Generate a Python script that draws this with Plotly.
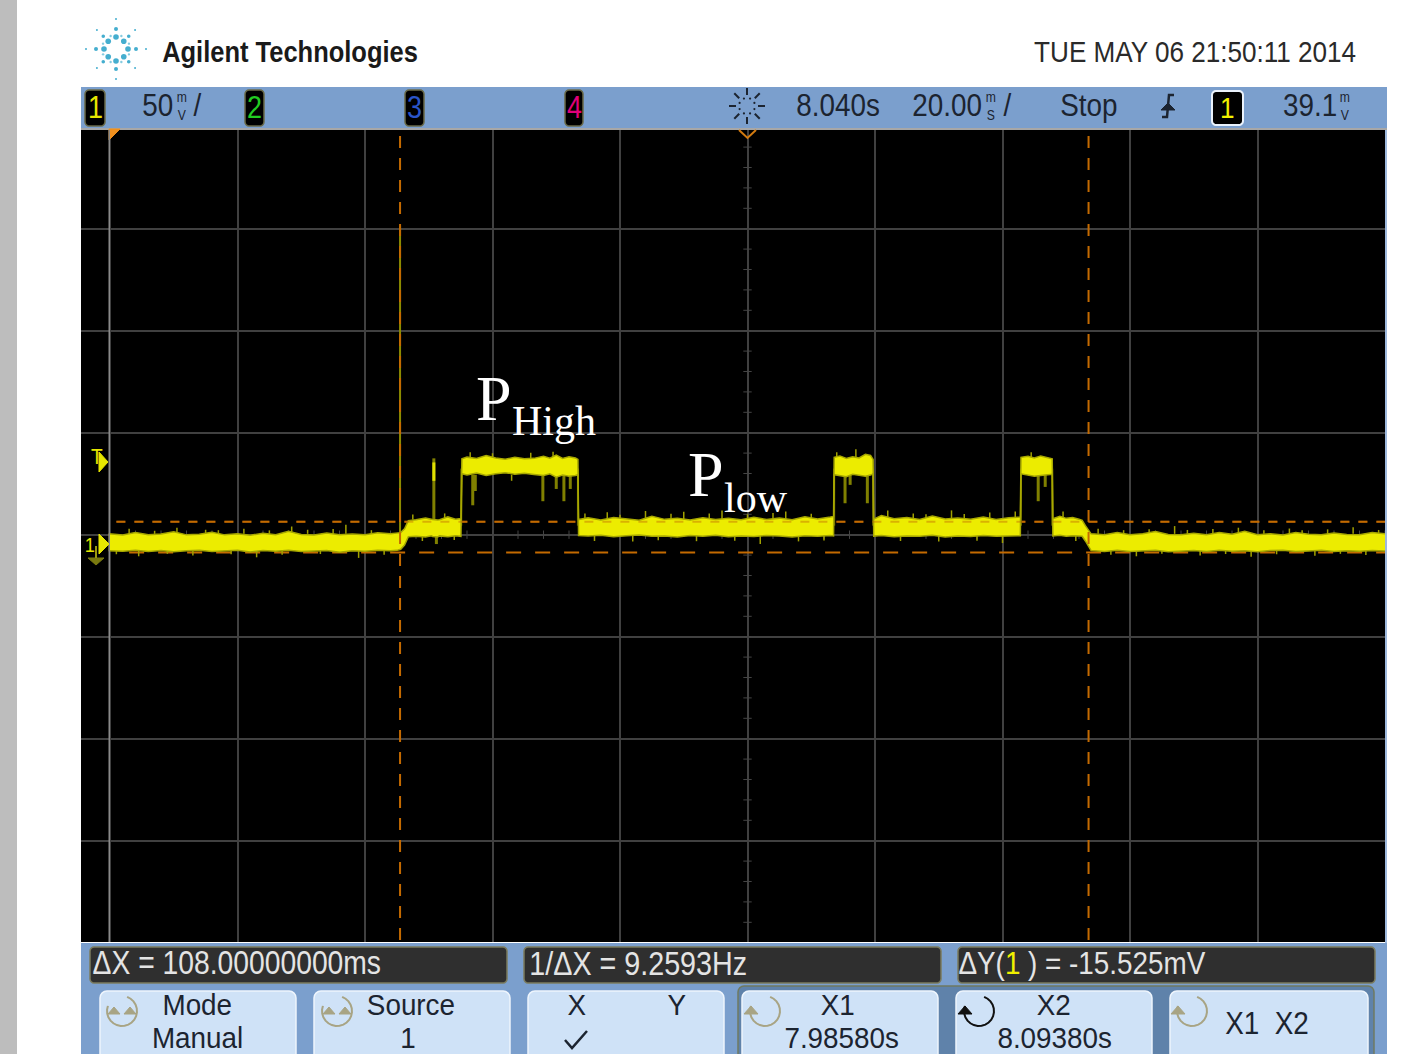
import math
import plotly.graph_objects as go

W, H = 1426, 1054
SANS = "Liberation Sans, Arial"
SERIF = "Liberation Serif, Times New Roman"

# ---- waveform (time in ms from screen centre, level in mV from channel ground)
trace_t = [-100.2,-98,-96,-94,-92,-90,-88,-86,-84,-82,-80,-78,-76,-74,-72,-70,-68,-66,-64,-62,-60,-58,-56,-55,-54.4,-53.8,
           -53.2,-52,-50.5,-49.6,-49.4,-48.6,-48.3,-47,-45.8,-44.95,
           -44.8,-44,-42.5,-41,-39.5,-38,-36.5,-35,-33.5,-32,-31,-30,-29,-28,-27,-26.6,
           -26.5,-25,-23,-21,-19,-17,-15,-13,-11,-9,-7,-5,-3,-1,1,3,5,7,9,11,13,13.5,
           13.6,14.5,15.5,16.5,17.5,18.5,19.3,19.7,
           19.8,21,23,25,27,29,31,33,35,37,39,41,42.8,
           42.9,44,45,46,47,47.8,
           47.9,49,50,51,52,52.5,53,53.5,
           53.9,56,58,60,62,64,66,68,70,72,74,76,78,80,82,84,86,88,90,92,94,96,98,100]
trace_hi = [4.0,3.4,4.6,3.6,3.9,5.0,3.5,3.8,4.8,3.5,4.1,3.3,4.3,3.6,5.2,3.7,3.4,4.4,3.6,3.9,3.5,4.5,4.0,4.2,4.6,6.5,
            10.5,10.9,11.8,11.2,11.0,10.8,10.9,12.3,11.2,11.5,
            40.8,41.6,40.9,42.4,41.2,40.6,41.5,40.8,41.0,42.0,41.1,42.6,41.0,41.8,41.2,40.5,
            11.0,11.9,10.8,12.0,11.2,10.7,12.6,11.1,11.6,10.8,11.9,11.0,11.6,10.9,12.1,11.0,11.7,10.9,12.4,11.3,12.2,12.5,
            41.5,42.2,41.0,41.8,41.2,43.0,42.4,40.5,
            11.2,13.0,11.4,12.0,11.0,12.7,11.3,11.8,11.1,12.2,11.0,11.9,12.2,
            41.5,42.0,41.2,42.2,41.6,40.8,
            11.4,12.6,11.6,12.0,11.2,10.6,8.0,6.0,
            4.0,3.6,4.7,3.5,4.0,5.1,3.7,3.5,4.3,3.6,4.6,3.8,5.2,3.6,4.0,3.4,4.7,3.8,3.5,4.4,3.7,3.6,4.6,4.0]
trace_lo = [-4.3,-4.5,-4.0,-4.6,-4.2,-4.8,-4.3,-4.1,-4.7,-4.4,-4.0,-4.9,-4.2,-4.5,-4.1,-4.6,-4.4,-4.2,-5.0,-4.3,-4.5,-4.0,-4.3,-4.1,-3.6,-1.5,
            2.6,2.8,2.4,3.0,2.7,2.5,3.0,2.6,3.1,2.8,
            33.5,32.9,33.8,32.6,33.4,34.0,33.2,33.7,33.1,32.6,33.4,31.8,32.8,32.2,32.6,33.0,
            3.2,2.9,3.3,2.6,3.1,3.4,2.8,3.0,2.5,3.2,2.8,3.3,2.6,3.0,2.7,3.2,2.9,2.5,3.1,2.8,3.2,3.0,
            33.0,32.4,32.0,33.2,32.6,32.2,32.8,33.4,
            2.9,3.2,2.6,3.0,2.8,3.3,2.5,3.0,2.7,3.2,2.8,3.0,3.1,
            33.4,32.8,32.2,32.6,33.0,33.2,
            3.0,3.3,2.8,3.1,3.0,2.8,0.5,-2.5,
            -4.2,-4.6,-4.1,-4.7,-4.3,-4.0,-4.8,-4.4,-4.2,-4.6,-4.1,-4.5,-4.3,-4.8,-4.2,-4.0,-4.6,-4.4,-4.1,-4.7,-4.3,-4.5,-4.2,-4.4]

# thin excursions: time, from level, to level
edge_t = [-44.9, -26.6, 13.6, 19.7, 42.9, 47.8]
edge_from = [8, 8, 8, 8, 8, 8]
edge_to = [36, 36, 36, 36, 36, 36]
spike_t = [-43.1, -42.7, -32.1, -30.0, -28.8, -27.8, 15.3, 16.1, 18.8, 45.6, 46.7, -49.2, -48.8]
spike_from = [33, 33, 33, 33, 33, 33, 33, 33, 33, 33, 33, 6, 3]
spike_to = [18, 25, 20, 26, 20, 26, 19, 28, 19, 20, 27, 41, -1]
tall_t = [-54.5]
tall_from = [3]
tall_to = [155]
peak_t = [-49.2]
peak_from = [30]
peak_to = [39]
noise_t = [-99,-97,-95.5,-93,-91,-89.5,-87,-85,-83,-81,-79,-77,-75,-73,-71.5,-69,-67,-65,-63,-61,-59,-57,
           -52.5,-51,-47.5,-46,
           -43.5,-40,-37,-34,-30.5,-25.5,-24,-22,-20,-18,-16,-14,-12,-10,-8,-6,-4,-2,0,2,4,6,8,10,12,
           14,17,22,24,26,28,30,32,34,36,38,40,42,44.5,49.5,51.5,
           55,57,59,61,63,65,67,69,71,73,75,77,79,81,83,85,87,89,91,93,95,97,99]
noise_from = [-4,4,-4,4,-4,4,-4,4,4,-4,4,-4,4,-4,4,4,-4,4,4,-4,4,-4,
              11,3,11,3,
              41,41,33,41,41,11,3,11,11,3,11,3,11,11,3,11,11,3,11,3,11,11,3,11,3,
              41,41,11,3,11,11,3,11,11,3,11,3,11,41,11,3,
              4,-4,4,-4,4,-4,4,4,-4,4,-4,4,-4,4,-4,4,4,-4,4,-4,4,-4,4]
noise_to = [-6,6.5,-7,5.5,-5.8,7,-6.6,6,5.8,-6,6.5,-7.5,5.7,-6.2,7.6,6,-5.9,6.4,8.5,-7.8,5.8,-6.3,
            13.5,0.5,14,1,
            44,43.5,30,43.8,44.2,14,0.5,14.6,13.4,0.2,15.2,0.8,13.8,14.8,0.4,14,15.5,0.6,13.6,-1,14.2,15,0.3,13.8,0.7,
            44,45.5,15.4,0.5,14,13.6,0.2,15.5,13.7,0.6,14.4,-0.5,15,44,15,0.5,
            6.5,-6.2,5.8,-7,6.2,-5.7,7.8,5.9,-6.6,6.4,-5.9,7,-7.2,5.8,-6,6.6,5.7,-6.8,6.2,-5.8,7.2,-6.4,5.9]

cursor_x = [-54.5, 53.5]
cursor_y = [9.9, -5.2]

# ---- screen scale (px per ms / per mV)
PX_MS, PX_MV = 127.5 / 20, 102 / 50
CX, GY = 747.5, 542
CENTRE_MV = (GY - 534.7) / PX_MV
xrange_ms = [(81 - CX) / PX_MS, (1385 - CX) / PX_MS]
yrange_mv = [(GY - 942) / PX_MV, (GY - 129) / PX_MV]
ORANGE = "#c46a00"

def seg(t, a, b):
    xs, ys = [], []
    for ti, ai, bi in zip(t, a, b):
        xs += [ti, ti, None]
        ys += [ai, bi, None]
    return xs, ys

fig = go.Figure()
tick_x = [i * 4 for i in range(-25, 26)]
tick_y = [CENTRE_MV + i * 10 for i in range(-20, 21)]
fig.add_trace(go.Scatter(x=tick_x, y=[CENTRE_MV] * len(tick_x), mode="markers",
                         marker=dict(symbol="line-ns", size=6, line=dict(width=1, color="#444")), hoverinfo="skip"))
fig.add_trace(go.Scatter(x=[0] * len(tick_y), y=tick_y, mode="markers",
                         marker=dict(symbol="line-ew", size=6, line=dict(width=1, color="#444")), hoverinfo="skip"))
fig.add_trace(go.Scatter(x=[-99, 100], y=[cursor_y[0]] * 2, mode="lines",
                         line=dict(color=ORANGE, width=2, dash="9px 9px"), hoverinfo="skip"))
fig.add_trace(go.Scatter(x=[-97, 100], y=[cursor_y[1]] * 2, mode="lines",
                         line=dict(color=ORANGE, width=2, dash="15px 14px"), hoverinfo="skip"))
x, y = seg(edge_t, edge_from, edge_to)
fig.add_trace(go.Scatter(x=x, y=y, mode="lines", line=dict(color="#5c5c00", width=2), hoverinfo="skip"))
x, y = seg(tall_t, tall_from, tall_to)
fig.add_trace(go.Scatter(x=x, y=y, mode="lines", line=dict(color="#8c8c00", width=2), hoverinfo="skip"))
x, y = seg(spike_t, spike_from, spike_to)
fig.add_trace(go.Scatter(x=x, y=y, mode="lines", line=dict(color="#808000", width=3), hoverinfo="skip"))
x, y = seg(peak_t, peak_from, peak_to)
fig.add_trace(go.Scatter(x=x, y=y, mode="lines", line=dict(color="#e0e000", width=3), hoverinfo="skip"))
x, y = seg(noise_t, noise_from, noise_to)
fig.add_trace(go.Scatter(x=x, y=y, mode="lines", line=dict(color="#a0a000", width=1.5), hoverinfo="skip"))
fig.add_trace(go.Scatter(x=trace_t, y=trace_lo, mode="lines", line=dict(color="#a8a800", width=1.5), hoverinfo="skip"))
fig.add_trace(go.Scatter(x=trace_t, y=trace_hi, mode="lines", line=dict(color="#a8a800", width=1.5),
                         fill="tonexty", fillcolor="#ecec00", hoverinfo="skip"))
fig.add_trace(go.Scatter(x=[-99, 100], y=[cursor_y[0]] * 2, mode="lines",
                         line=dict(color="rgba(196,106,0,0.45)", width=2, dash="9px 9px"), hoverinfo="skip"))
for v in cursor_x:
    fig.add_trace(go.Scatter(x=[v, v], y=[yrange_mv[0] + 1, yrange_mv[1] - 1], mode="lines",
                             line=dict(color=ORANGE, width=2, dash="12px 10px"), hoverinfo="skip"))

# ---- instrument chrome, in page pixels
shapes, notes = [], []
def px(v): return v / W
def py(v): return 1 - v / H
def rect(x0, y0, x1, y1, fill, line=None, lw=1):
    shapes.append(dict(type="rect", xref="paper", yref="paper", x0=px(x0), x1=px(x1), y0=py(y0), y1=py(y1),
                       fillcolor=fill, line=dict(color=line or fill, width=lw if line else 0), layer="above"))
def path(points, fill=None, line="#000", lw=1, close=False):
    d = "M " + " L ".join(f"{px(a):.5f},{py(b):.5f}" for a, b in points) + (" Z" if close else "")
    shapes.append(dict(type="path", xref="paper", yref="paper", path=d, fillcolor=fill or "rgba(0,0,0,0)",
                       line=dict(color=line, width=lw), layer="above"))
def rrect(x0, y0, x1, y1, r, fill, line=None, lw=1):
    pts = []
    for cx, cy, a0 in [(x1 - r, y0 + r, -90), (x1 - r, y1 - r, 0), (x0 + r, y1 - r, 90), (x0 + r, y0 + r, 180)]:
        for k in range(5):
            a = math.radians(a0 + k * 22.5)
            pts.append((cx + r * math.cos(a), cy + r * math.sin(a)))
    path(pts, fill=fill, line=line or fill, lw=lw if line else 0, close=True)
def dot(x0, y0, r, c):
    shapes.append(dict(type="circle", xref="paper", yref="paper", x0=px(x0 - r), x1=px(x0 + r), y0=py(y0 - r), y1=py(y0 + r),
                       fillcolor=c, line=dict(width=0), layer="above"))
def txt(x0, y0, s, size, color="#1c2430", font=SANS, anchor="center"):
    notes.append(dict(xref="paper", yref="paper", x=px(x0), y=py(y0), text=s, showarrow=False, xanchor=anchor,
                      yanchor="middle", font=dict(size=size, color=color, family=font), borderpad=0, borderwidth=0))
def arc(cx, cy, r, a0, a1, color, lw=2):
    n = 18
    path([(cx + r * math.cos(math.radians(a0 + (a1 - a0) * k / n)),
           cy + r * math.sin(math.radians(a0 + (a1 - a0) * k / n))) for k in range(n + 1)], line=color, lw=lw)

BLUE = "#7b9fcd"
rect(0, 0, 17, H, "#bdbdbd")
rect(81, 87, 1387, 128, BLUE)
rect(81, 943, 1387, H, BLUE)
rect(1385, 128, 1387, 943, "#9db8dc")
rect(81, 128, 1387, 130, "#a7a7a7")

# logo
LOGO = "#45aecf"
for k in range(8):
    a = math.radians(k * 45)
    rays = [(12, 2.8), (20, 2.0), (30, 1.0)] if k % 2 == 0 else [(11, 2.8), (18, 1.8), (27, 1.0)]
    for r, s in rays:
        dot(116 + r * math.cos(a), 49 + r * math.sin(a), s, LOGO)
    b = a + math.radians(22.5)
    dot(116 + 14 * math.cos(b), 49 + 14 * math.sin(b), 1.2, "#86cbe0")
txt(290, 52, "<b>Agilent Technologies</b>", 29.3, "#1a1a1a")
txt(1194.5, 52, "TUE MAY 06 21:50:11 2014", 30, "#2a2a2a")

# channel badges and header text
for x0, x1, s, c in [(85, 105, "1", "#e6e600"), (245, 264, "2", "#22cc22"), (405, 424, "3", "#2a55c8"), (565, 583, "4", "#e0007a")]:
    rrect(x0, 90, x1, 126, 4, "#000000", "#6a6a48", 1.5)
    txt((x0 + x1) / 2, 108, s, 31, c)
rrect(1212, 91, 1243, 125, 4, "#000000", "#eaf2fb", 2)
txt(1227.5, 108, "1", 30, "#f0f000")
txt(158, 105, "50", 32)
txt(182, 106, "m<br>V", 14)
txt(197, 105, "/", 32)
txt(838, 105, "8.040s", 32)
txt(947, 105, "20.00", 32)
txt(991, 106, "m<br>S", 14)
txt(1007, 105, "/", 32)
txt(1089, 105, "Stop", 32)
txt(1310, 105, "39.1", 32)
txt(1345, 106, "m<br>V", 14)
# acquisition sun icon
for k in range(8):
    a = math.radians(k * 45)
    path([(747 + 11 * math.cos(a), 106 + 11 * math.sin(a)), (747 + 18 * math.cos(a), 106 + 18 * math.sin(a))], line="#1c2430", lw=2)
    b = a + math.radians(22.5)
    dot(747 + 8 * math.cos(b), 106 + 8 * math.sin(b), 1.1, "#1c2430")
# trigger slope icon
path([(1174, 95), (1169, 95), (1167, 117), (1162, 117)], line="#1c2430", lw=2.5)
path([(1161, 110), (1168, 103), (1175, 110)], fill="#1c2430", line="#1c2430", close=True)

# screen markers
path([(109, 129), (120, 129), (109, 140)], fill="#f0901e", line="#f0901e", close=True)
path([(739, 130), (747.5, 138), (756, 130)], line="#d27a10", lw=2)
rect(108.5, 130, 110, 942, "#8a8a8a")
txt(96, 456, "T", 22, "#e6e600")
path([(99, 452), (108, 462), (99, 472)], fill="#e6e600", line="#e6e600", close=True)
txt(90, 544, "1", 21, "#e6e600")
path([(99, 534), (109, 544), (99, 554)], fill="#e6e600", line="#e6e600", close=True)
path([(88, 558), (104, 558), (96, 565)], fill="#7a7a10", line="#7a7a10", close=True)
rect(95, 546, 97, 558, "#9a9a10")

# annotations on the trace
txt(476, 398, "P", 64, "#ffffff", SERIF, "left")
txt(512, 421, "High", 42, "#ffffff", SERIF, "left")
txt(688, 474, "P", 64, "#ffffff", SERIF, "left")
txt(724, 498, "low", 42, "#ffffff", SERIF, "left")

# read-outs
for x0, x1 in [(90, 507), (524, 941), (958, 1375)]:
    rrect(x0, 947, x1, 983, 4, "#2f2f2f", "#7c7c5e", 1.5)
txt(237, 963, "ΔX = 108.00000000ms", 32.5, "#e4e4e4")
txt(638, 963, "1/ΔX = 9.2593Hz", 33, "#e4e4e4")
txt(1082, 963, "ΔY(<span style='color:#f0f000'>1</span> ) = -15.525mV", 32, "#e4e4e4")

# softkeys
rrect(738, 986, 1374, 1070, 6, "#5f82aa", "#6f7a62", 1.5)
KEY = "#cfe2f7"
for x0, x1 in [(100, 296), (314, 510), (528, 724), (742, 938), (956, 1152), (1170, 1368)]:
    rrect(x0, 991, x1, 1075, 7, KEY, "#eef5fd", 1.5)
KNOB = "#a8a484"
for cx in [122, 337]:
    arc(cx, 1011, 15, -70, 200, KNOB)
    path([(cx - 14, 1014), (cx - 8, 1007), (cx - 2, 1014)], fill=KNOB, line=KNOB, close=True)
    path([(cx + 2, 1014), (cx + 8, 1007), (cx + 14, 1014)], fill=KNOB, line=KNOB, close=True)
for cx, col in [(765, KNOB), (979, "#111111"), (1192, KNOB)]:
    arc(cx, 1011, 15, -70, 200, col)
    path([(cx - 21, 1014), (cx - 14, 1006), (cx - 7, 1014)], fill=col, line=col, close=True)
txt(197, 1005, "Mode", 29); txt(197, 1037.5, "Manual", 29)
txt(411, 1005, "Source", 29); txt(408, 1037.5, "1", 29)
txt(576, 1005, "X", 29); txt(676, 1005, "Y", 29)
path([(565, 1040), (572, 1048), (587, 1031)], line="#1c2430", lw=2.5)
txt(838, 1005, "X1", 29); txt(841, 1037.5, "7.98580s", 29)
txt(1053, 1005, "X2", 29); txt(1054, 1037.5, "8.09380s", 29)
txt(1267, 1023, "X1  X2", 32)

fig.update_layout(
    width=W, height=H, margin=dict(l=0, r=0, t=0, b=0, pad=0), autosize=False,
    paper_bgcolor="#ffffff", plot_bgcolor="#000000", showlegend=False, hovermode=False,
    xaxis=dict(domain=[px(81), px(1385)], range=xrange_ms, tick0=0, dtick=20, showgrid=True, gridcolor="#404040",
               gridwidth=2, zeroline=False, showticklabels=False, ticks="", showline=False, fixedrange=True),
    yaxis=dict(domain=[py(942), py(129)], range=yrange_mv, tick0=CENTRE_MV, dtick=50, showgrid=True,
               gridcolor="#404040", gridwidth=2, zeroline=False, showticklabels=False, ticks="", showline=False, fixedrange=True),
    shapes=shapes, annotations=notes,
)
narrow_css = (
    "var s=document.createElement('style');"
    "s.textContent='.annotation-text:not([style*=\"Serif\"]){transform:scaleX(.87);transform-box:fill-box;transform-origin:center}"
    ".annotation-text[style*=\"font-size: 29px\"]{transform:scaleX(.96)}';"
    "document.head.appendChild(s);"
    "document.body.style.margin='0';document.body.style.overflow='hidden';"
)
fig.write_html("out.html", config=dict(displayModeBar=False), post_script=narrow_css)
